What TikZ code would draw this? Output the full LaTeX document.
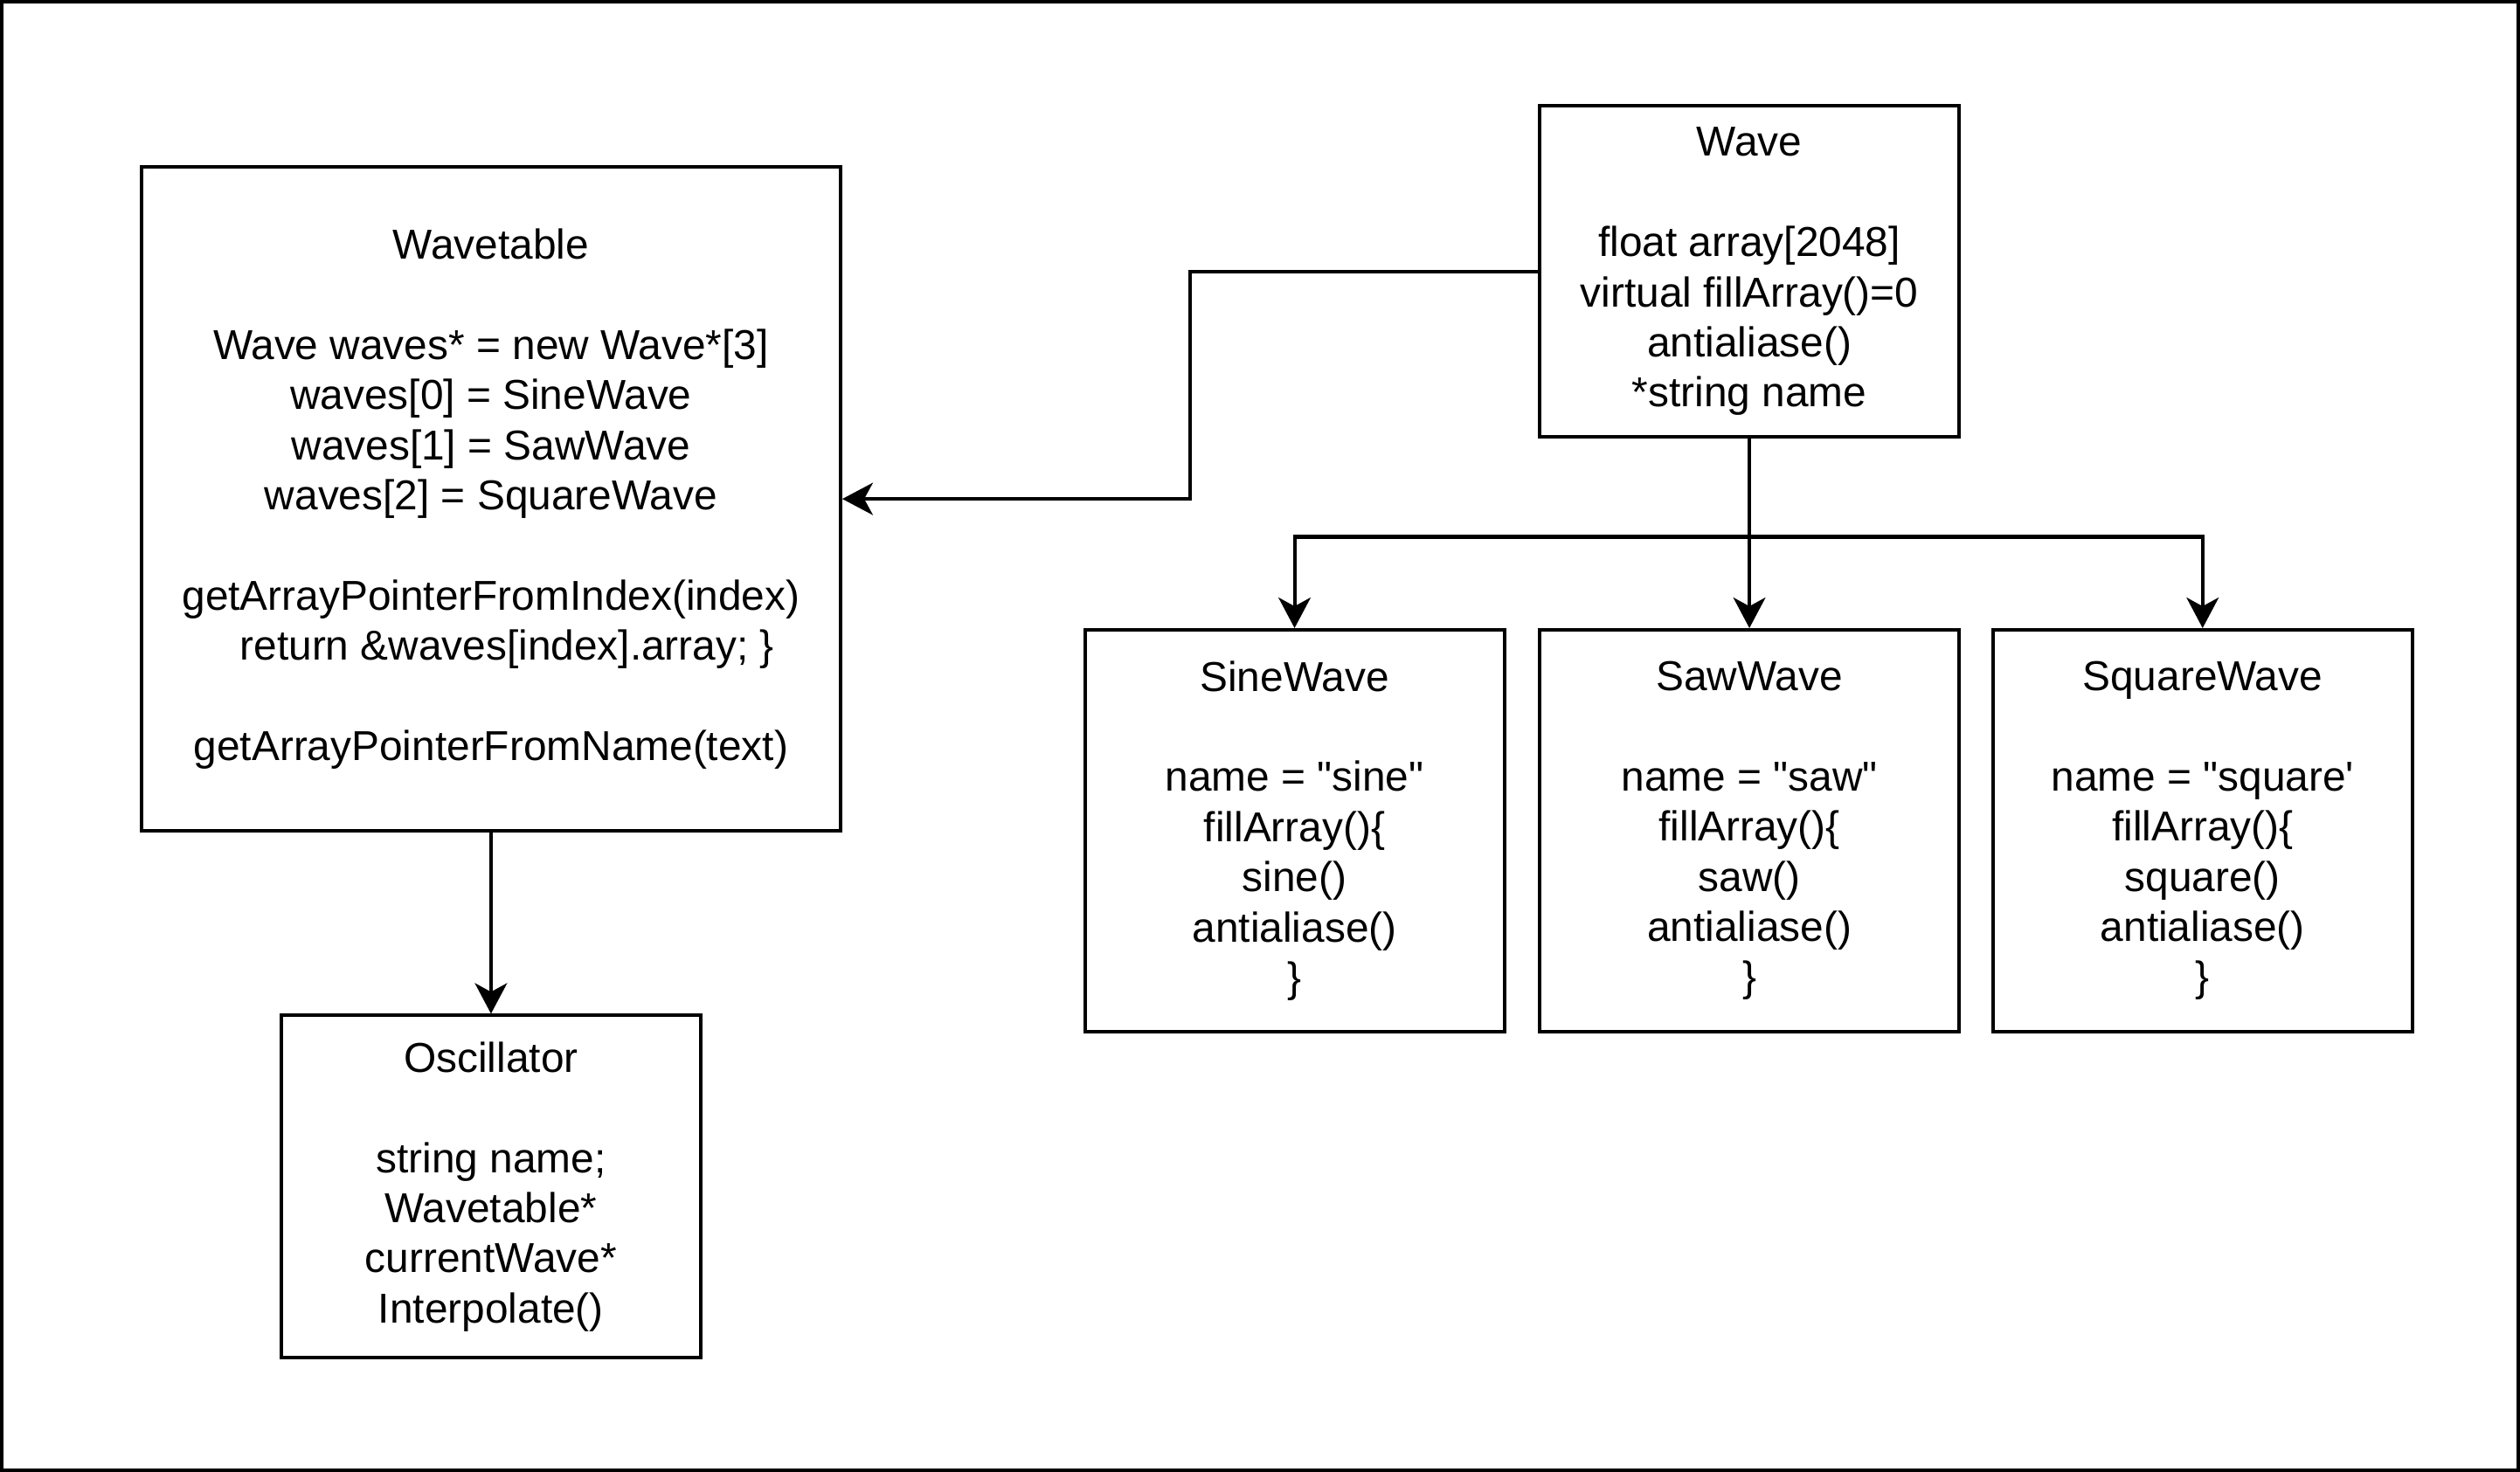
\documentclass[tikz,border=0pt]{standalone}
\usepackage{fontspec}
\setmainfont{Liberation Sans}[Ligatures=NoCommon]
\usetikzlibrary{arrows.meta,positioning,calc}

\tikzset{
  cls/.style={draw, line width=1.1pt, align=center, inner sep=0pt,
    font=\fontsize{13}{15.6}\selectfont, minimum width=130.5pt},
  arr/.style={line width=1.1pt, -{Stealth[length=9.5pt,width=10pt,inset=2.7pt]}}
}

\begin{document}
\begin{tikzpicture}[x=0.5pt,y=-0.5pt]
\useasboundingbox (0,0) rectangle (1568,916);
\draw[line width=1.3pt] (1,1) rectangle (1567,915);

% left side
\node[cls, minimum width=217.5pt, minimum height=206.5pt] (wavetable) at (305.5,310.5)
  {Wavetable\\[15.6pt]
   Wave waves* = new Wave*[3]\\
   waves[0] = SineWave\\
   waves[1] = SawWave\\
   waves[2] = SquareWave\\[15.6pt]
   getArrayPointerFromIndex(index)\\
   \hspace*{10pt}return \&waves[index].array; \}\\[15.6pt]
   getArrayPointerFromName(text)};
\node[cls, minimum height=106.5pt] (osc) at (305.5,738.5)
  {Oscillator\\[15.6pt]
   string name;\\
   Wavetable*\\
   currentWave*\\
   Interpolate()};

% wave classes
\node[cls, minimum height=103pt] (wave) at (1088.5,169)
  {Wave\\[15.6pt]
   float array[2048]\\
   virtual fillArray()=0\\
   antialiase()\\
   *string name};
\node[cls, minimum height=125pt] (saw) at (1088.5,517)
  {SawWave\\[15.6pt]
   name = \textquotedbl saw\textquotedbl\\
   fillArray()\{\\
   saw()\\
   antialiase()\\
   \}};
\node[cls, minimum height=125pt, left=9.9pt of saw] (sine)
  {SineWave\\[15.6pt]
   name = \textquotedbl sine\textquotedbl\\
   fillArray()\{\\
   sine()\\
   antialiase()\\
   \}};
\node[cls, minimum height=125pt, right=9.4pt of saw] (square)
  {SquareWave\\[15.6pt]
   name = \textquotedbl square\textquotesingle\\
   fillArray()\{\\
   square()\\
   antialiase()\\
   \}};

% arrows
\draw[arr] (wave.west) -| ($(wave.west)!.5!(wavetable.east)$) |- (wavetable.east);
\draw[arr] (wave.south) -- (saw.north);
\draw[arr] (wave.south) -- ++(0,-30.5pt) -| (sine.north);
\draw[arr] (wave.south) -- ++(0,-30.5pt) -| (square.north);
\draw[arr] (wavetable.south) -- (osc.north);
\end{tikzpicture}
\end{document}
